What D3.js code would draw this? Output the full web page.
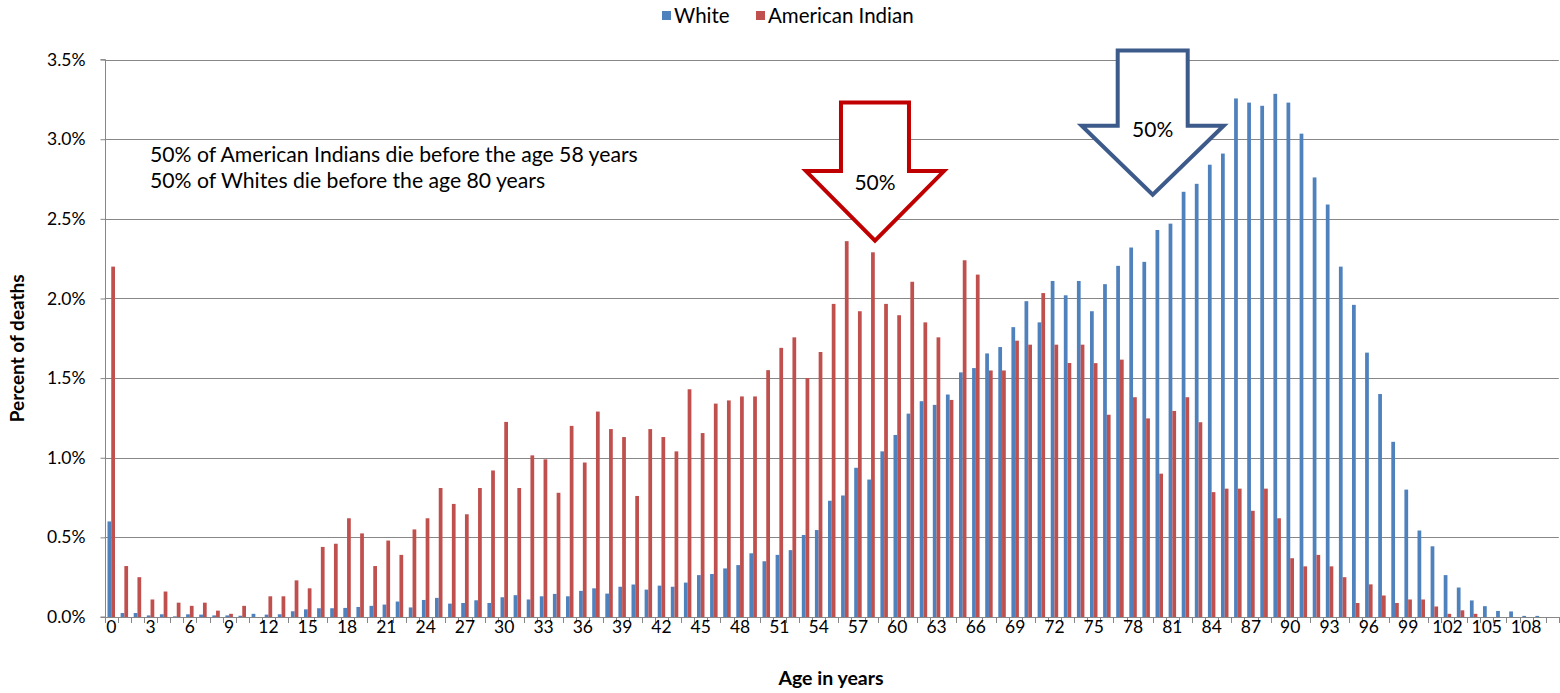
<!DOCTYPE html>
<html>
<head>
<meta charset="utf-8">
<script src="https://cdn.jsdelivr.net/npm/d3@7"></script>
<style>
  html, body { margin: 0; padding: 0; background: #fff; }
  svg { display: block; }
  text { font-family: Lato, "Open Sans", sans-serif; fill: #000; }
</style>
</head>
<body>
<svg id="chart" width="1560" height="693"></svg>
<script>
// ---- data ----
const ages = d3.range(0, 111);
const tickAges = d3.range(0, 109, 3);
const seriesNames = ["White", "American Indian"];
const white = [
  0.60, 0.025, 0.025, 0.01, 0.017, 0.004, 0.017, 0.015, 0.01, 0.01,
  0.008, 0.02, 0.015, 0.017, 0.036, 0.048, 0.055, 0.055, 0.057, 0.063,
  0.07, 0.078, 0.097, 0.06, 0.107, 0.12, 0.084, 0.088, 0.105, 0.088,
  0.124, 0.137, 0.11, 0.13, 0.145, 0.13, 0.164, 0.18, 0.147, 0.19,
  0.204, 0.172, 0.197, 0.19, 0.216, 0.263, 0.27, 0.305, 0.326, 0.40,
  0.35, 0.39, 0.42, 0.515, 0.546, 0.73, 0.763, 0.937, 0.863, 1.04,
  1.143, 1.277, 1.355, 1.332, 1.397, 1.536, 1.563, 1.655, 1.695, 1.82,
  1.983, 1.85, 2.11, 2.02, 2.11, 1.92, 2.09, 2.205, 2.32, 2.23,
  2.43, 2.47, 2.67, 2.72, 2.84, 2.91, 3.256, 3.23, 3.21, 3.285,
  3.23, 3.035, 2.76, 2.59, 2.20, 1.96, 1.66, 1.40, 1.10, 0.80,
  0.543, 0.444, 0.263, 0.185, 0.104, 0.068, 0.038, 0.035, 0.007, 0.007,
  0
];
const americanIndian = [
  2.20, 0.32, 0.25, 0.11, 0.16, 0.09, 0.07, 0.09, 0.04, 0.02,
  0.07, 0, 0.13, 0.13, 0.23, 0.18, 0.44, 0.46, 0.62, 0.525,
  0.32, 0.48, 0.39, 0.55, 0.62, 0.81, 0.71, 0.645, 0.81, 0.92,
  1.225, 0.81, 1.015, 0.99, 0.78, 1.20, 0.97, 1.29, 1.18, 1.13,
  0.76, 1.18, 1.13, 1.04, 1.43, 1.155, 1.34, 1.36, 1.385, 1.385,
  1.55, 1.69, 1.756, 1.50, 1.664, 1.966, 2.36, 1.92, 2.29, 1.966,
  1.895, 2.105, 1.85, 1.756, 1.363, 2.24, 2.15, 1.548, 1.548, 1.735,
  1.71, 2.034, 1.71, 1.595, 1.71, 1.594, 1.27, 1.616, 1.38, 1.247,
  0.90, 1.294, 1.38, 1.223, 0.784, 0.806, 0.806, 0.667, 0.806, 0.62,
  0.369, 0.318, 0.39, 0.318, 0.25, 0.088, 0.205, 0.135, 0.088, 0.11,
  0.11, 0.066, 0.02, 0.042, 0.02, 0, 0, 0, 0, 0,
  0
];
const yTicks = [0, 0.5, 1.0, 1.5, 2.0, 2.5, 3.0, 3.5];
const noteLines = [
  "50% of American Indians die before the age 58 years",
  "50% of Whites die before the age 80 years"
];
const arrowLabel = "50%";

// ---- layout ----
const colors = { "White": "#4F81BD", "American Indian": "#C0504D" };
const svg = d3.select("#chart");
const plotLeft = 104.7, plotRight = 1558.8, plotTop = 59.6, plotBottom = 617;
const tickFont = "17.5px";

const x = d3.scaleBand().domain(ages).range([plotLeft, plotRight]).paddingInner(0).paddingOuter(0);
const xs = d3.scaleBand().domain(seriesNames).range([0, x.bandwidth()]).paddingInner(0).paddingOuter(0.75);
const y = d3.scaleLinear().domain([0, 3.5]).range([plotBottom, plotTop]);

// gridlines
svg.append("g").selectAll("line").data(yTicks).join("line")
  .attr("x1", plotLeft).attr("x2", plotRight)
  .attr("y1", d => Math.round(y(d)) + 0.5).attr("y2", d => Math.round(y(d)) + 0.5)
  .attr("stroke", "#878787").attr("stroke-width", 1);

// bars
const rows = ages.map((a, i) => ({ age: a, "White": white[i], "American Indian": americanIndian[i] }));
const g = svg.append("g");
seriesNames.forEach(s => {
  g.append("g").selectAll("rect").data(rows).join("rect")
    .attr("x", d => x(d.age) + xs(s))
    .attr("width", xs.bandwidth())
    .attr("y", d => y(d[s]))
    .attr("height", d => y(0) - y(d[s]))
    .attr("fill", colors[s]);
});

// y axis
const yAxis = svg.append("g").attr("transform", `translate(${Math.round(plotLeft) + 0.5},0)`)
  .call(d3.axisLeft(y).tickValues(yTicks).tickFormat(d => d.toFixed(1) + "%").tickSize(5).tickPadding(15));
yAxis.select(".domain").attr("stroke", "#878787").attr("d", `M-5,${y(3.5)}H0V${y(0)}H-5`);
yAxis.selectAll(".tick line").attr("stroke", "#878787");
yAxis.selectAll(".tick text").style("font-size", tickFont).style("font-family", "Lato, sans-serif").attr("fill", "#000");

// x axis line and boundary ticks
svg.append("line").attr("x1", plotLeft).attr("x2", plotRight)
  .attr("y1", Math.round(plotBottom) + 0.5).attr("y2", Math.round(plotBottom) + 0.5)
  .attr("stroke", "#878787");
svg.append("g").selectAll("line").data(ages.concat([ages.length])).join("line")
  .attr("x1", d => Math.round(plotLeft + d * x.step()) + 0.5)
  .attr("x2", d => Math.round(plotLeft + d * x.step()) + 0.5)
  .attr("y1", plotBottom).attr("y2", plotBottom + 6)
  .attr("stroke", "#878787");
const xAxis = svg.append("g").attr("transform", `translate(0,${plotBottom})`)
  .call(d3.axisBottom(x).tickValues(tickAges).tickSize(0).tickPadding(4));
xAxis.select(".domain").remove();
xAxis.selectAll(".tick text").style("font-size", tickFont).style("font-family", "Lato, sans-serif").attr("fill", "#000");

// axis titles
svg.append("text").attr("x", 831).attr("y", 685)
  .attr("text-anchor", "middle").style("font-weight", "bold").style("font-size", "19.5px")
  .text("Age in years");
svg.append("text").attr("transform", `translate(24,${(plotTop + plotBottom) / 2 + 10}) rotate(-90)`)
  .attr("text-anchor", "middle").style("font-weight", "bold").style("font-size", "19px")
  .text("Percent of deaths");

// legend
const legend = svg.append("g");
const legendItems = [{ s: "White", x: 662 }, { s: "American Indian", x: 756 }];
legendItems.forEach(it => {
  legend.append("rect").attr("x", it.x).attr("y", 11).attr("width", 9).attr("height", 9).attr("fill", colors[it.s]);
  legend.append("text").attr("x", it.x + 12).attr("y", 22.5).style("font-size", "20.5px").text(it.s);
});

// note text
svg.append("g").selectAll("text").data(noteLines).join("text")
  .attr("x", 150).attr("y", (d, i) => 162 + i * 26)
  .style("font-size", "21.2px").text(d => d);

// arrows (down block arrows)
function blockArrow(cx, tipV, headV, topV, headHalf, shaftHalf, color, labelY) {
  const tipY = y(tipV), headY = y(headV), topY = y(topV);
  const p = d3.path();
  p.moveTo(cx - shaftHalf, topY);
  p.lineTo(cx + shaftHalf, topY);
  p.lineTo(cx + shaftHalf, headY);
  p.lineTo(cx + headHalf, headY);
  p.lineTo(cx, tipY);
  p.lineTo(cx - headHalf, headY);
  p.lineTo(cx - shaftHalf, headY);
  p.closePath();
  svg.append("path").attr("d", p.toString()).attr("fill", "#fff")
    .attr("stroke", color).attr("stroke-width", 4).attr("stroke-linejoin", "miter");
  svg.append("text").attr("x", cx).attr("y", labelY).attr("text-anchor", "middle")
    .style("font-size", "21px").text(arrowLabel);
}
const agePos = a => plotLeft + x.step() * (a + 0.5);
blockArrow(agePos(58.3), 2.363, 2.80, 3.23, 69, 34, "#C00000", 190);
blockArrow(agePos(79.5), 2.652, 3.085, 3.557, 71, 35, "#3C5A8A", 137);
</script>
</body>
</html>
